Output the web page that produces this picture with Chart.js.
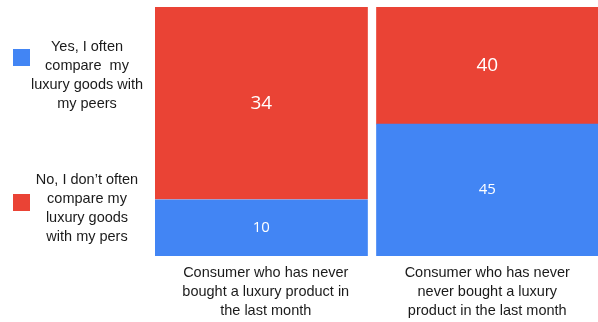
<!DOCTYPE html>
<html>
<head>
<meta charset="utf-8">
<script src="https://cdn.jsdelivr.net/npm/chart.js@4"></script>
<style>
html,body{margin:0;padding:0;background:#fff;overflow:hidden}
#wrap{width:598px;height:322px;position:relative}
</style>
</head>
<body>
<div id="wrap"><canvas id="c" width="598" height="322"></canvas></div>
<script>
const categories = [
  ["Consumer who has never", "bought a luxury product in", "the last month"],
  ["Consumer who has never", "never bought a luxury", "product in the last month"]
];
const yesValues = [10, 45];
const noValues = [34, 40];
const yesLabel = ["Yes, I often", "compare  my", "luxury goods with", "my peers"];
const noLabel = ["No, I don\u2019t often", "compare my", "luxury goods", "with my pers"];
const BLUE = "#4285F4";
const RED = "#EA4335";

const totals = yesValues.map((v, i) => v + noValues[i]);
const yesShare = yesValues.map((v, i) => v / totals[i] * 100);
const noShare = noValues.map((v, i) => v / totals[i] * 100);

const valueLabels = {
  id: "valueLabels",
  afterDatasetsDraw(chart) {
    const ctx = chart.ctx;
    ctx.save();
    ctx.fillStyle = "#ffffff";
    ctx.textAlign = "center";
    ctx.textBaseline = "middle";
    chart.data.datasets.forEach((ds, di) => {
      const meta = chart.getDatasetMeta(di);
      meta.data.forEach((bar, i) => {
        const raw = ds.rawValues[i];
        const size = di === 1 ? 19 : 15;
        ctx.font = size + "px 'Open Sans', sans-serif";
        const props = bar.getProps(["x", "y", "base", "width"], true);
        const left = props.x - props.width / 2;
        const right = props.x + props.width / 2 - (i === 0 ? 9 : 0);
        const cx = (left + right) / 2;
        const cy = (props.y + props.base) / 2;
        ctx.fillText(String(raw), cx, cy);
      });
    });
    ctx.restore();
  }
};

const sideLegend = {
  id: "sideLegend",
  afterDraw(chart) {
    const ctx = chart.ctx;
    ctx.save();
    ctx.font = "14.5px 'Liberation Sans', Arial, sans-serif";
    ctx.textAlign = "center";
    ctx.textBaseline = "middle";
    const items = [
      {color: BLUE, lines: yesLabel, sq: 49, y0: 47},
      {color: RED, lines: noLabel, sq: 194, y0: 180}
    ];
    items.forEach(it => {
      ctx.fillStyle = it.color;
      ctx.fillRect(13, it.sq, 17, 17);
      ctx.fillStyle = "#1a1a1a";
      it.lines.forEach((l, k) => ctx.fillText(l, 87, it.y0 + k * 19));
    });
    ctx.restore();
  }
};

new Chart(document.getElementById("c"), {
  type: "bar",
  data: {
    labels: categories,
    datasets: [
      {
        label: yesLabel.join(" "),
        data: yesShare,
        rawValues: yesValues,
        backgroundColor: BLUE,
        borderColor: "#ffffff",
        borderWidth: ctx => ({top: 0, bottom: 0, left: 0, right: ctx.dataIndex === 0 ? 9 : 0}),
        borderSkipped: false
      },
      {
        label: noLabel.join(" "),
        data: noShare,
        rawValues: noValues,
        backgroundColor: RED,
        borderColor: "#ffffff",
        borderWidth: ctx => ({top: 0, bottom: 0, left: 0, right: ctx.dataIndex === 0 ? 9 : 0}),
        borderSkipped: false
      }
    ]
  },
  options: {
    responsive: false,
    animation: false,
    layout: {padding: {left: 155, right: 0, top: 7, bottom: 0}},
    plugins: {legend: {display: false}, tooltip: {enabled: false}},
    datasets: {bar: {categoryPercentage: 1, barPercentage: 1}},
    scales: {
      x: {
        stacked: true,
        grid: {display: false, drawTicks: false},
        border: {display: false},
        afterFit(scale) { scale.height = 66; },
        ticks: {
          color: "#1a1a1a",
          padding: 8,
          maxRotation: 0,
          font: {family: "'Liberation Sans', Arial, sans-serif", size: 14.5, lineHeight: 1.3}
        }
      },
      y: {
        stacked: true,
        display: false,
        min: 0,
        max: 100
      }
    }
  },
  plugins: [valueLabels, sideLegend]
});
</script>
</body>
</html>
